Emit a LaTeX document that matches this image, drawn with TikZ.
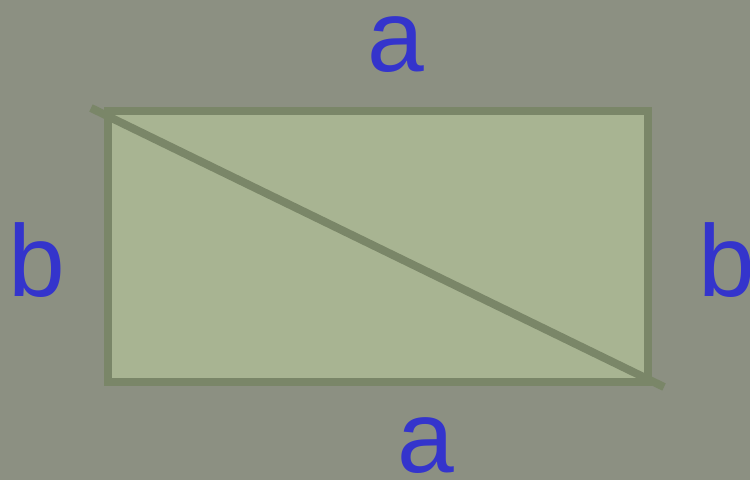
\documentclass[tikz,border=0pt]{standalone}
\usepackage{fontspec}
\setmainfont{Liberation Sans}
\usetikzlibrary{positioning}

\definecolor{slate}{RGB}{140,144,130}
\definecolor{sage}{RGB}{168,180,146}
\definecolor{moss}{RGB}{122,134,104}
\definecolor{ink}{RGB}{52,52,204}

\begin{document}
\begin{tikzpicture}[
            x = 1pt, y = 1pt, % one unit per pixel
            line width = 8pt % heavy outline
        ]

        \tikzstyle{side}=[
            text = ink,
            font = \fontsize{102}{102}\selectfont,
            inner sep = 0pt,
            anchor = base
        ]

        \fill[slate] (0,0) rectangle (750,480);
        \useasboundingbox (0,0) rectangle (750,480);

        \node[draw = moss, fill = sage, inner sep = 0pt,
              minimum width = 540pt, minimum height = 271pt] (box) at (378,233.5) {};
        % diagonal runs a little past both corners
        \draw[moss] ([shift={(-13pt,-1pt)}]box.north west) -- ([shift={(12pt,-1pt)}]box.south east);

        \node[side] (top) at (396,408) {a};
        \node[side] (bottom) at (426,8) {a};
        \node[side] (left) at (37,183) {b};
        \node[side] (right) at (727,183) {b};
    \end{tikzpicture}
\end{document}
